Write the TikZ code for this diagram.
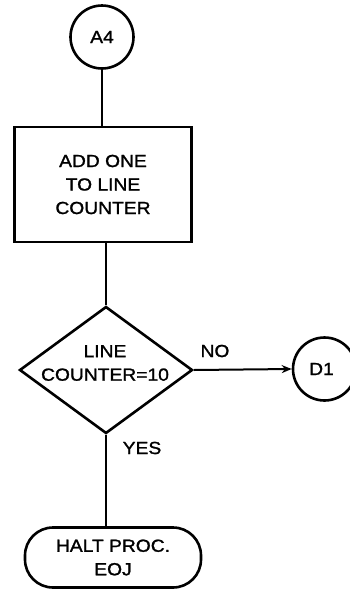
\documentclass[tikz,border=0pt]{standalone}
\usepackage{fontspec}
\setmainfont{Liberation Sans}[FakeStretch=1.1, FakeBold=1.3]
\usetikzlibrary{shapes.geometric,arrows.meta}
\begin{document}
\begin{tikzpicture}[x=1pt,y=-1pt,
  every node/.style={font=\fontsize{17.5}{23.5}\selectfont, align=center, text=black},
  shapeline/.style={draw=black, line width=2.6pt},
  connector/.style={draw=black, line width=2pt},
  onpage/.style={shapeline, circle, minimum size=63pt, inner sep=0pt},
  process/.style={shapeline, rectangle, minimum width=177pt, minimum height=115pt, inner sep=0pt},
  decision/.style={shapeline, diamond, minimum width=173pt, minimum height=127pt, inner sep=0pt},
  terminal/.style={shapeline, rectangle, rounded corners=28pt, minimum width=176pt, minimum height=60pt, inner sep=0pt},
  plain/.style={inner sep=0pt}]
  \useasboundingbox (0,0) rectangle (350,590);

  % connectors and flow boxes
  \node[onpage] (a4) at (102,37) {A4};
  \node[process] (add) at (103,184.5) {ADD ONE\\TO LINE\\COUNTER};
  \node[decision] (test) at (106,370) {};
  \node[plain] (testtext) at (105,363) {LINE\\COUNTER=10};
  \node[onpage] (d1) at (324.5,369) {\hspace*{-6pt}D1};
  \node[terminal] (halt) at (113,557.5) {HALT PROC.\\EOJ};

  % branch labels
  \node[plain] (no) at (215,351) {NO};
  \node[plain] (yes) at (142,448) {YES};

  % flow lines
  \draw[connector] (a4.south) -- (a4.south |- add.north);
  \draw[connector] (add.south -| test.north) -- (test.north);
  \draw[connector, -{Stealth[length=10pt,width=8pt]}] (test.east) -- (d1.west);
  \draw[connector] (test.south) -- (test.south |- halt.north);
\end{tikzpicture}
\end{document}
